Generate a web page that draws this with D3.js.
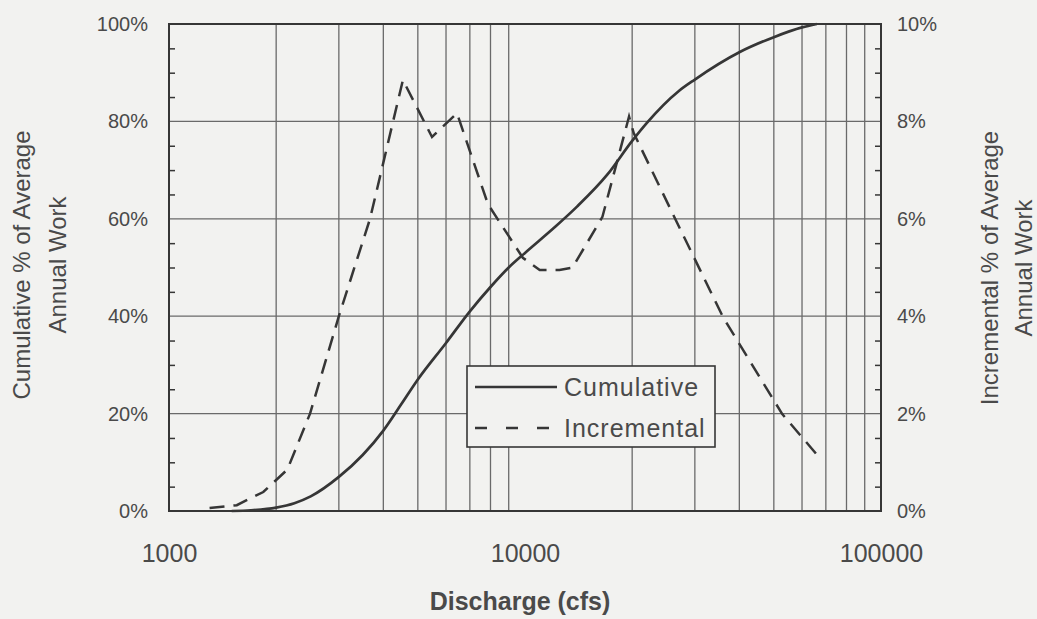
<!DOCTYPE html>
<html>
<head>
<meta charset="utf-8">
<script src="https://cdn.jsdelivr.net/npm/d3@7"></script>
<style>
  html, body { margin: 0; padding: 0; background: #f2f2f0; }
  svg { display: block; font-family: "Liberation Sans", Arial, sans-serif; }
</style>
</head>
<body>
<svg id="chart" width="1037" height="619"></svg>
<script>
// Discharge (cfs) vs. share of average annual work
const cumQ   = [1500, 1700, 2000, 2250, 2500, 3000, 3500, 4000, 4500, 5000, 6000, 7000, 8000, 9000, 10000, 12000, 14000, 17000, 20000, 22000, 27000, 30000, 40000, 50000, 60000, 66000];
const cumPct = [0, 0.15, 0.7, 1.6, 3.0, 7.0, 11.5, 16.5, 22, 27, 34.5, 41, 46, 50, 53, 58, 62.5, 69, 76, 79.7, 86.2, 88.6, 94.2, 97.3, 99.3, 100];

const incQ   = [1300, 1550, 1840, 2150, 2490, 3000, 3670, 4540, 5480, 6440, 7870, 9860, 11000, 12500, 13600, 16500, 19600, 20200, 26700, 36000, 52800, 68000];
const incPct = [0.06, 0.12, 0.39, 0.85, 2.0, 4.0, 6.0, 8.85, 7.68, 8.17, 6.3, 5.2, 4.95, 4.95, 5.0, 6.04, 8.1, 7.76, 5.93, 3.98, 1.99, 1.05];

const xTickValues     = [1000, 10000, 100000];
const leftTickValues  = [0, 20, 40, 60, 80, 100];
const rightTickValues = [0, 2, 4, 6, 8, 10];

const seriesNames = ["Cumulative", "Incremental"];
const leftTitle  = ["Cumulative % of Average", "Annual Work"];
const rightTitle = ["Incremental % of Average", "Annual Work"];
const xTitle = "Discharge (cfs)";

const ink = "#363636";
const textInk = "#4a4a4a";
const gridInk = "#6a6a6a";
const bg = "#f2f2f0";

const svg = d3.select("#chart");
svg.append("rect").attr("width", 1037).attr("height", 619).attr("fill", bg);

const plotL = 169, plotR = 881, plotT = 24, plotB = 511;

const x  = d3.scaleLog().domain([1000, 100000]).range([plotL, plotR]);
const yL = d3.scaleLinear().domain([0, 100]).range([plotB, plotT]);
const yR = d3.scaleLinear().domain([0, 10]).range([plotB, plotT]);

// vertical grid at every log tick
const gridXs = [];
for (const dec of [1000, 10000]) for (let k = 2; k <= 9; k++) gridXs.push(k * dec);
svg.append("g").selectAll("line").data(gridXs).join("line")
  .attr("x1", d => x(d)).attr("x2", d => x(d))
  .attr("y1", plotT).attr("y2", plotB)
  .attr("stroke", gridInk).attr("stroke-width", 1.3);

// horizontal grid at each labelled percentage
svg.append("g").selectAll("line").data(leftTickValues.filter(d => d > 0 && d < 100)).join("line")
  .attr("x1", plotL).attr("x2", plotR)
  .attr("y1", d => yL(d)).attr("y2", d => yL(d))
  .attr("stroke", gridInk).attr("stroke-width", 1.3);

// frame
svg.append("rect")
  .attr("x", plotL).attr("y", plotT)
  .attr("width", plotR - plotL).attr("height", plotB - plotT)
  .attr("fill", "none").attr("stroke", ink).attr("stroke-width", 2);

// inward minor ticks
const leftMinor = d3.range(0, 101, 5).filter(d => d % 20 !== 0);
const gLm = svg.append("g").attr("transform", `translate(${plotL},0)`)
  .call(d3.axisRight(yL).tickValues(leftMinor).tickSize(6).tickFormat(""));
gLm.select(".domain").remove();
gLm.selectAll("line").attr("stroke", ink).attr("stroke-width", 1.5);

const rightMinor = d3.range(0, 10.01, 0.5).filter(d => Math.abs(d % 2) > 1e-9);
const gRm = svg.append("g").attr("transform", `translate(${plotR},0)`)
  .call(d3.axisLeft(yR).tickValues(rightMinor).tickSize(6).tickFormat(""));
gRm.select(".domain").remove();
gRm.selectAll("line").attr("stroke", ink).attr("stroke-width", 1.5);

// axis labels
function styleLabels(g, size) {
  g.select(".domain").remove();
  g.selectAll("line").remove();
  g.selectAll("text").attr("fill", textInk).style("font-size", size + "px");
}

const gL = svg.append("g").attr("transform", `translate(${plotL},0)`)
  .call(d3.axisLeft(yL).tickValues(leftTickValues).tickSize(0).tickPadding(21).tickFormat(d => d + "%"));
styleLabels(gL, 20);

const gR = svg.append("g").attr("transform", `translate(${plotR},0)`)
  .call(d3.axisRight(yR).tickValues(rightTickValues).tickSize(0).tickPadding(16).tickFormat(d => d + "%"));
styleLabels(gR, 20);

const gX = svg.append("g").attr("transform", `translate(0,${plotB})`)
  .call(d3.axisBottom(x).tickValues(xTickValues).tickSize(0).tickPadding(33).tickFormat(d3.format("d")));
styleLabels(gX, 25);

// series
const cumData = cumQ.map((q, i) => [q, cumPct[i]]);
const incData = incQ.map((q, i) => [q, incPct[i]]);

svg.append("path").datum(cumData)
  .attr("d", d3.line().x(d => x(d[0])).y(d => yL(d[1])).curve(d3.curveMonotoneX))
  .attr("fill", "none").attr("stroke", ink).attr("stroke-width", 2.7);

svg.append("path").datum(incData)
  .attr("d", d3.line().x(d => x(d[0])).y(d => yR(d[1])))
  .attr("fill", "none").attr("stroke", ink).attr("stroke-width", 2.5)
  .attr("stroke-dasharray", "15,9");

// legend
const lg = svg.append("g");
lg.append("rect").attr("x", 467).attr("y", 366).attr("width", 248).attr("height", 81)
  .attr("fill", bg).attr("stroke", ink).attr("stroke-width", 1.6);
lg.append("line").attr("x1", 475).attr("x2", 557).attr("y1", 387).attr("y2", 387)
  .attr("stroke", ink).attr("stroke-width", 2.4);
lg.append("line").attr("x1", 475).attr("x2", 551).attr("y1", 428).attr("y2", 428)
  .attr("stroke", ink).attr("stroke-width", 2.4).attr("stroke-dasharray", "12,19");
lg.selectAll("text").data(seriesNames).join("text")
  .attr("x", 564).attr("y", (d, i) => 396 + i * 41)
  .attr("fill", textInk).style("font-size", "25px").style("letter-spacing", "1px")
  .text(d => d);

// axis titles
const tl = svg.append("text").attr("transform", "translate(0,265) rotate(-90)")
  .attr("text-anchor", "middle").attr("fill", textInk).style("font-size", "24px");
tl.selectAll("tspan").data(leftTitle).join("tspan")
  .attr("x", 0).attr("y", (d, i) => 30 + i * 36).text(d => d);

const tr = svg.append("text").attr("transform", "translate(0,268) rotate(-90)")
  .attr("text-anchor", "middle").attr("fill", textInk).style("font-size", "24px");
tr.selectAll("tspan").data(rightTitle).join("tspan")
  .attr("x", 0).attr("y", (d, i) => 998 + i * 34).text(d => d);

svg.append("text").attr("x", 520).attr("y", 610).attr("text-anchor", "middle")
  .attr("fill", textInk).style("font-size", "25px").style("font-weight", "bold")
  .text(xTitle);
</script>
</body>
</html>
